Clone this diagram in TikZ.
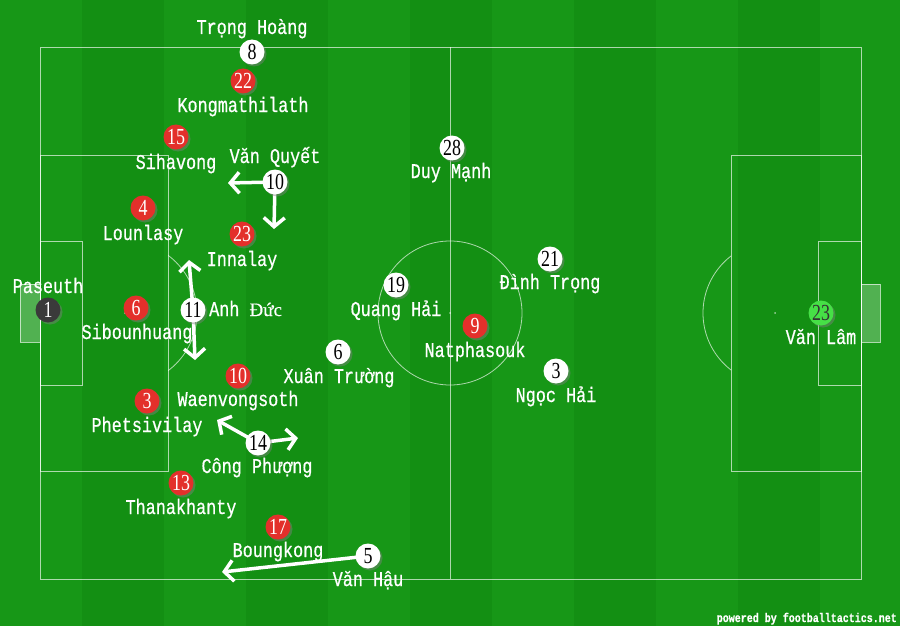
\documentclass[tikz,border=0pt]{standalone}
\usepackage{fontspec}
\newfontfamily\lblfont[FakeStretch=0.8,FakeBold=0.6]{Liberation Mono}
\newfontfamily\numfont[FakeStretch=0.78]{Liberation Serif}
\newfontfamily\serfont[FakeBold=0.4]{Liberation Serif}
\usetikzlibrary{arrows.meta,shadows}
\pgfdeclarelayer{field}
\pgfdeclarelayer{arrowlayer}
\pgfsetlayers{field,arrowlayer,main}
\definecolor{grassA}{HTML}{138F13}
\definecolor{grassB}{HTML}{179717}
\definecolor{ballred}{HTML}{E3302B}
\definecolor{balldark}{HTML}{3A3A3A}
\definecolor{ballgreen}{HTML}{46E046}
\tikzset{
  fieldline/.style={draw=white, draw opacity=0.65, line width=0.8pt},
  player/.style={circle, minimum size=25pt, inner sep=0pt,
    font=\numfont\fontsize{23}{23}\selectfont,
    drop shadow={shadow xshift=2pt, shadow yshift=-2pt, opacity=0.45}},
  redp/.style={player, fill=ballred, text=white},
  whitep/.style={player, fill=white, text=black},
  darkp/.style={player, fill=balldark, text=white},
  greenp/.style={player, fill=ballgreen, text=black!80},
  lbl/.style={text=white, inner sep=0pt, anchor=base,
    font=\lblfont\fontsize{21}{22}\selectfont},
  move/.style={draw=white, line width=3.5pt, line cap=round,
    -{Straight Barb[length=9pt,width=21pt,line width=3.5pt]}},
}
\begin{document}
\begin{tikzpicture}[x=1pt,y=-1pt]
\useasboundingbox (0,0) rectangle (900,626);
\begin{pgfonlayer}{field}
  \fill[grassA] (0,0) rectangle (900,626);
  \foreach \i in {0,2,...,10} {
    \fill[grassB] (\i*82,0) rectangle (\i*82+82,626);
  }
  % pitch
  \draw[fieldline] (40,47) rectangle (861,579);
  \draw[fieldline] (450,47) -- (450,579);
  \draw[fieldline] (450,313) circle[radius=72];
  \fill[white, opacity=0.6] (450,313) circle[radius=1];
  % left side
  \draw[fieldline] (40,155) rectangle (168,471);
  \draw[fieldline] (40,241) rectangle (82,385);
  \fill[white, opacity=0.6] (125,313) circle[radius=1];
  \begin{scope}
    \clip (168,0) rectangle (300,626);
    \draw[fieldline] (125,313) circle[radius=72];
  \end{scope}
  \fill[white, fill opacity=0.25] (20,284) rectangle (40,342);
  \draw[fieldline] (20,284) rectangle (40,342);
  % right side
  \draw[fieldline] (731,155) rectangle (861,471);
  \draw[fieldline] (818,241) rectangle (861,385);
  \fill[white, opacity=0.6] (775,313) circle[radius=1];
  \begin{scope}
    \clip (600,0) rectangle (731,626);
    \draw[fieldline] (775,313) circle[radius=72];
  \end{scope}
  \fill[white, fill opacity=0.25] (861,284) rectangle (880,342);
  \draw[fieldline] (861,284) rectangle (880,342);
\end{pgfonlayer}

% Vietnam (white)
\node[whitep] (w8)  at (252,52)  {8};
\node[whitep] (w10) at (275,182) {10};
\node[whitep] (w11) at (193,310) {11};
\node[whitep] (w6)  at (338,352) {6};
\node[whitep] (w14) at (258,443) {14};
\node[whitep] (w5)  at (368,556) {5};
\node[whitep] (w28) at (452,148) {28};
\node[whitep] (w19) at (396,285) {19};
\node[whitep] (w21) at (550,259) {21};
\node[whitep] (w3)  at (556,371) {3};
\node[greenp] (g23) at (821,313) {23};

% Laos (red)
\node[darkp] (d1)  at (48,310)  {1};
\node[redp] (r22) at (243,81)  {22};
\node[redp] (r15) at (176,137) {15};
\node[redp] (r4)  at (143,208) {4};
\node[redp] (r23) at (242,234) {23};
\node[redp] (r6)  at (136,308) {6};
\node[redp] (r10) at (238,376) {10};
\node[redp] (r3)  at (147,401) {3};
\node[redp] (r13) at (181,483) {13};
\node[redp] (r17) at (278,527) {17};
\node[redp] (r9)  at (475,326) {9};

% labels
\node[lbl] (lw8)  at (252,34)  {Trọng Hoàng};
\node[lbl] (lw10) at (275,163) {Văn Quyết};
\node[lbl, anchor=base west] (lw11) at (209,316) {Anh {\serfont\fontsize{19}{20}\selectfont Đức}};
\node[lbl] (lw6)  at (339,383) {Xuân Trường};
\node[lbl] (lw14) at (257,473) {Công Phượng};
\node[lbl] (lw5)  at (368,586) {Văn Hậu};
\node[lbl] (lw28) at (451,178) {Duy Mạnh};
\node[lbl] (lw19) at (396,316) {Quang Hải};
\node[lbl] (lw21) at (550,289) {Đình Trọng};
\node[lbl] (lw3)  at (556,402) {Ngọc Hải};
\node[lbl] (lg23) at (821,344) {Văn Lâm};
\node[lbl] (ld1)  at (48,293)  {Paseuth};
\node[lbl] (lr22) at (243,112) {Kongmathilath};
\node[lbl] (lr15) at (176,169) {Sihavong};
\node[lbl] (lr4)  at (143,240) {Lounlasy};
\node[lbl] (lr23) at (242,266) {Innalay};
\node[lbl] (lr6)  at (137,339) {Sibounhuang};
\node[lbl] (lr10) at (238,406) {Waenvongsoth};
\node[lbl] (lr3)  at (147,432) {Phetsivilay};
\node[lbl] (lr13) at (181,514) {Thanakhanty};
\node[lbl] (lr17) at (278,557) {Boungkong};
\node[lbl] (lr9)  at (475,357) {Natphasouk};
\node[text=white, inner sep=0pt, anchor=base east,
  font=\lblfont\bfseries\fontsize{12.5}{13}\selectfont] (credit) at (897,622)
  {powered by footballtactics.net};

% movement arrows
\coordinate (m1) at (228,183);
\coordinate (m2) at (274,229);
\coordinate (m3) at (189,260);
\coordinate (m4) at (195,360);
\coordinate (m5) at (217,420);
\coordinate (m6) at (298,438);
\coordinate (m7) at (222,572);
\begin{pgfonlayer}{arrowlayer}
  \draw[move] (w10.center) -- (m1);
  \draw[move] (w10.center) -- (m2);
  \draw[move] (w11.center) -- (m3);
  \draw[move] (w11.center) -- (m4);
  \draw[move] (w14.center) -- (m5);
  \draw[move] (w14.center) -- (m6);
  \draw[move] (w5.center) -- (m7);
\end{pgfonlayer}
\end{tikzpicture}
\end{document}
